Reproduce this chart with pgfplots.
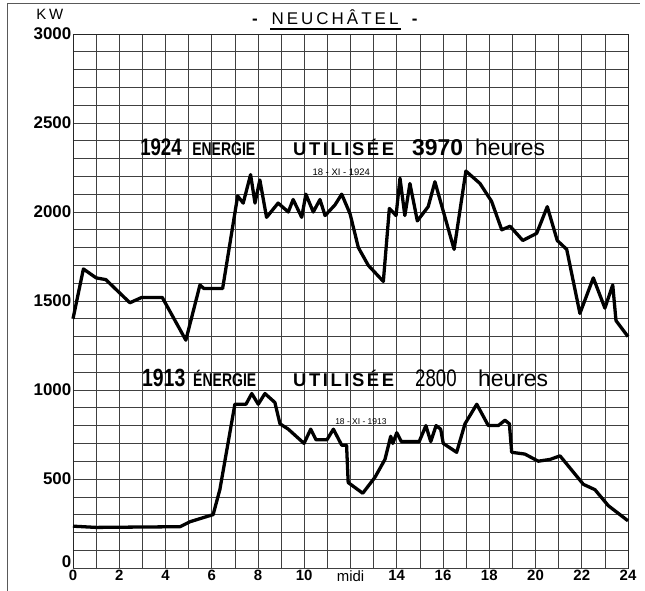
\documentclass[border=0pt]{standalone}
\usepackage{fontspec}
\setmainfont{Liberation Sans}
\newfontfamily\cond[FakeStretch=0.78]{Liberation Sans}
\newfontfamily\condw[FakeStretch=0.76]{Liberation Sans}
\newfontfamily\condwide[LetterSpace=14]{Liberation Sans}
\newfontfamily\spaced[LetterSpace=18]{Liberation Sans}
\usepackage{pgfplots}
\pgfplotsset{compat=1.18}

\pgfplotstableread{
x y
0 1400
0.45 1680
1.0 1630
1.42 1620
2.46 1490
2.97 1520
3.86 1520
4.88 1280
5.49 1590
5.66 1570
6.47 1570
7.12 2090
7.36 2050
7.68 2210
7.87 2050
8.08 2180
8.37 1970
8.87 2050
9.31 2000
9.52 2070
9.89 1970
10.07 2100
10.39 2000
10.68 2070
10.9 1980
11.33 2040
11.62 2100
11.98 1990
12.34 1800
12.77 1700
13.42 1610
13.68 2020
13.97 1980
14.14 2190
14.35 1980
14.57 2160
14.89 1950
15.36 2030
15.65 2170
16.48 1790
16.99 2230
17.6 2160
18.1 2060
18.54 1900
18.9 1920
19.45 1840
20.05 1880
20.51 2030
20.94 1840
21.35 1790
21.92 1430
22.5 1630
23.0 1460
23.34 1590
23.48 1390
24 1300
}\dataA

\pgfplotstableread{
x y
0 235
1 228
4.63 232
5.06 260
6.06 300
6.35 440
7.0 920
7.48 920
7.73 980
8.01 920
8.3 980
8.73 930
8.95 810
9.31 780
9.99 700
10.28 780
10.51 720
10.98 720
11.26 780
11.62 690
11.83 690
11.9 480
12.53 420
13.06 510
13.49 610
13.74 740
13.83 700
14.0 760
14.2 710
14.97 710
15.26 800
15.47 710
15.7 800
15.9 780
16.01 700
16.59 650
16.95 810
17.46 920
17.96 800
18.39 800
18.68 830
18.87 810
18.97 650
19.54 640
20.12 600
20.63 610
21.06 630
22.07 470
22.57 440
23.15 350
24 265
}\dataB

\begin{document}
\begin{tikzpicture}
\useasboundingbox (-73bp,-23bp) rectangle (572bp,568bp);
\draw[black!65, line width=0.8pt] (-66bp,-23bp) -- (-66bp,565bp) -- (567bp,565bp);
\begin{axis}[
 scale only axis, width=555bp, height=534bp,
 xmin=0,xmax=24,ymin=0,ymax=3000,
 xtick={0,2,...,24},
 xticklabels={0,2,4,6,8,10,{\mdseries midi},14,16,18,20,22,24},
 minor xtick={1,3,...,23},
 ytick={500,1000,...,3000},
 extra y ticks={0},
 extra y tick style={yticklabel style={yshift=6bp}},
 minor ytick={100,200,...,2900},
 grid=both,
 major grid style={black!75, line width=0.6pt},
 minor grid style={black!75, line width=0.6pt},
 axis line style={black!85, line width=0.7pt},
 major tick length=0pt, minor tick length=0pt,
 yticklabel style={font=\fontsize{17}{17}\selectfont\bfseries, inner xsep=1.5pt},
 xticklabel style={font=\fontsize{15}{15}\selectfont\bfseries, inner ysep=2pt},
 /pgf/number format/assume math mode=true,
 /pgf/number format/1000 sep={},
 clip=false,
]
\addplot[black, line width=3.3pt, line join=round] table[x=x,y=y] {\dataA};
\addplot[black, line width=3.3pt, line join=round] table[x=x,y=y] {\dataB};

\begin{scope}[every node/.style={anchor=base west, inner sep=0pt}]
\node at (axis cs:2.90,2315) {\fontsize{24}{24}\cond\bfseries 1924};
\node at (axis cs:5.15,2315) {\fontsize{18.5}{18.5}\condw\bfseries ENERGIE};
\node at (axis cs:9.51,2315) {\fontsize{18.5}{18.5}\condwide\bfseries UTILISÉE};
\node at (axis cs:14.66,2315) {\fontsize{23}{23}\selectfont\bfseries 3970};
\node at (axis cs:17.38,2315) {\fontsize{23}{23}\selectfont heures};
\node at (axis cs:2.98,1020) {\fontsize{25}{25}\cond\bfseries 1913};
\node at (axis cs:5.19,1020) {\fontsize{18.5}{18.5}\condw\bfseries ÉNERGIE};
\node at (axis cs:9.51,1020) {\fontsize{18.5}{18.5}\condwide\bfseries UTILISÉE};
\node at (axis cs:14.79,1020) {\fontsize{24}{24}\cond 2800};
\node at (axis cs:17.51,1020) {\fontsize{23}{23}\selectfont heures};
\end{scope}

\node[inner sep=0pt] at (axis cs:11.6,2225) {\fontsize{9.5}{9.5}\selectfont 18 - XI - 1924};
\node[inner sep=0pt] at (axis cs:12.45,825) {\fontsize{8.5}{8.5}\selectfont 18 - XI - 1913};

\node[inner sep=0pt, anchor=base] (t) at (axis cs:11.33,3000) [yshift=9bp] {\spaced\fontsize{17}{17}\selectfont NEUCHÂTEL};
\draw[line width=2.4pt] ([yshift=-3.8pt,xshift=-1pt]t.base west) -- ([yshift=-3.8pt,xshift=2pt]t.base east);
\node[inner sep=0pt, anchor=base] at (axis cs:7.87,3000) [yshift=9bp] {\fontsize{17}{17}\selectfont\bfseries -};
\node[inner sep=0pt, anchor=base] at (axis cs:14.78,3000) [yshift=9bp] {\fontsize{17}{17}\selectfont\bfseries -};
\node[inner sep=0pt, anchor=base] at (axis cs:-1.0,3000) [yshift=14bp] {\spaced\fontsize{15}{15}\selectfont KW};
\end{axis}
\end{tikzpicture}
\end{document}
